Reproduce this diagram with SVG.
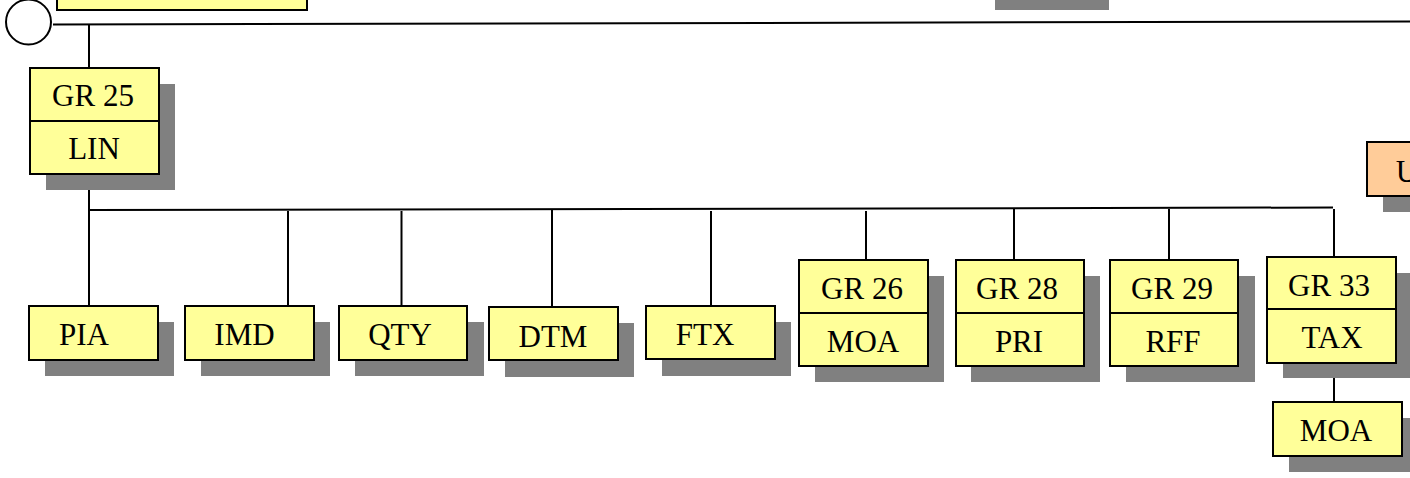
<svg xmlns="http://www.w3.org/2000/svg" width="1410" height="478" viewBox="0 0 1410 478">
<style>
.box{fill:#FFFF99;stroke:#000;stroke-width:2}
.org{fill:#FFCC99;stroke:#000;stroke-width:2}
.sh{fill:#808080}
.ln{stroke:#000;stroke-width:2;fill:none}
text{font-family:"Liberation Serif","Times New Roman",serif;font-size:31px;fill:#000;text-anchor:middle}
</style>
<rect width="1410" height="478" fill="#fff"/>
<g id="top-box"><rect class="box" x="57" y="-40" width="250" height="50"/></g>
<g id="top-shadow"><rect class="sh" x="995" y="0" width="114" height="10"/></g>
<g id="start-circle"><circle cx="28.5" cy="22" r="22.5" fill="#fff" stroke="#000" stroke-width="2"/></g>
<g id="connectors">
<line class="ln" x1="53" y1="24.5" x2="1410" y2="21.5"/>
<line class="ln" x1="89" y1="24" x2="89" y2="68"/>
<line class="ln" x1="89" y1="174" x2="89" y2="306"/>
<line class="ln" x1="89" y1="210" x2="1333" y2="207.5"/>
<line class="ln" x1="288" y1="211" x2="288" y2="306"/>
<line class="ln" x1="401.5" y1="211" x2="401.5" y2="306"/>
<line class="ln" x1="552" y1="210" x2="552" y2="307"/>
<line class="ln" x1="711" y1="211" x2="711" y2="306"/>
<line class="ln" x1="866" y1="211" x2="866" y2="260"/>
<line class="ln" x1="1014" y1="209" x2="1014" y2="260"/>
<line class="ln" x1="1169" y1="209" x2="1169" y2="260"/>
<line class="ln" x1="1334" y1="209" x2="1334" y2="257"/>
<line class="ln" x1="1334" y1="363" x2="1334" y2="402"/>
</g>
<g id="gr25">
<rect class="sh" x="46" y="84" width="129" height="106"/>
<rect class="box" x="30" y="68" width="129" height="106"/>
<line class="ln" x1="30" y1="121" x2="159" y2="121"/>
<text x="93" y="106">GR 25</text>
<text x="94" y="159">LIN</text>
</g>
<g id="u-box">
<rect class="sh" x="1383" y="158" width="40" height="54"/>
<rect class="org" x="1367" y="142" width="60" height="54"/>
<text x="1407" y="182">U</text>
</g>
<g id="pia">
<rect class="sh" x="45" y="322" width="129" height="54"/>
<rect class="box" x="29" y="306" width="129" height="54"/>
<text x="84" y="345">PIA</text>
</g>
<g id="imd">
<rect class="sh" x="201" y="322" width="129" height="54"/>
<rect class="box" x="185" y="306" width="129" height="54"/>
<text x="244.5" y="345">IMD</text>
</g>
<g id="qty">
<rect class="sh" x="355" y="322" width="129" height="54"/>
<rect class="box" x="339" y="306" width="128" height="54"/>
<text x="400" y="345">QTY</text>
</g>
<g id="dtm">
<rect class="sh" x="505" y="323" width="129" height="54"/>
<rect class="box" x="489" y="307" width="129" height="53"/>
<text x="553" y="347">DTM</text>
</g>
<g id="ftx">
<rect class="sh" x="662" y="322" width="129" height="54"/>
<rect class="box" x="646" y="306" width="129" height="53"/>
<text x="705" y="345">FTX</text>
</g>
<g id="gr26">
<rect class="sh" x="815" y="276" width="129" height="106"/>
<rect class="box" x="799" y="260" width="129" height="106"/>
<line class="ln" x1="799" y1="313" x2="928" y2="313"/>
<text x="862" y="299">GR 26</text>
<text x="863" y="352">MOA</text>
</g>
<g id="gr28">
<rect class="sh" x="971" y="276" width="129" height="106"/>
<rect class="box" x="956" y="260" width="128" height="106"/>
<line class="ln" x1="956" y1="313" x2="1084" y2="313"/>
<text x="1017" y="299">GR 28</text>
<text x="1019" y="352">PRI</text>
</g>
<g id="gr29">
<rect class="sh" x="1126" y="276" width="129" height="106"/>
<rect class="box" x="1110" y="260" width="128" height="106"/>
<line class="ln" x1="1110" y1="313" x2="1238" y2="313"/>
<text x="1172" y="299">GR 29</text>
<text x="1173" y="352">RFF</text>
</g>
<g id="gr33">
<rect class="sh" x="1283" y="273" width="129" height="105"/>
<rect class="box" x="1267" y="257" width="129" height="106"/>
<line class="ln" x1="1267" y1="309" x2="1396" y2="309"/>
<text x="1329" y="296">GR 33</text>
<text x="1332" y="348">TAX</text>
</g>
<g id="moa2">
<rect class="sh" x="1289" y="418" width="129" height="54"/>
<rect class="box" x="1273" y="402" width="129" height="54"/>
<text x="1336" y="441">MOA</text>
</g>
</svg>
